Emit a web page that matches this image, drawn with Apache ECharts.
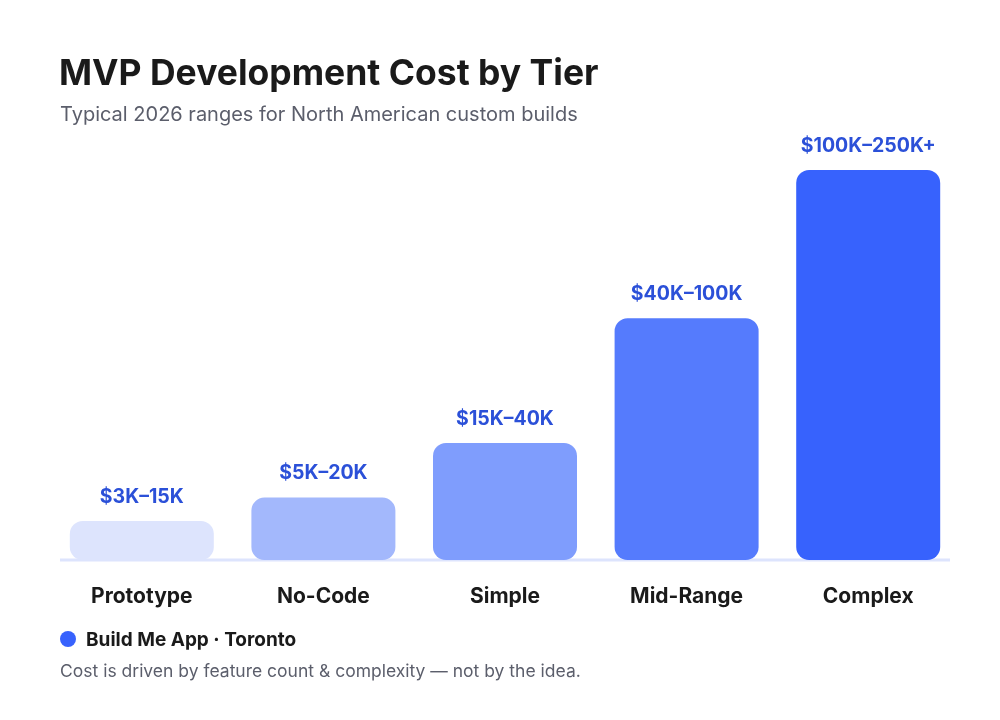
<!DOCTYPE html>
<html>
<head>
<meta charset="utf-8">
<script src="https://cdn.jsdelivr.net/npm/echarts@6/dist/echarts.min.js"></script>
<style>
  html, body { margin: 0; padding: 0; background: #ffffff; }
  #main { width: 1000px; height: 720px; }
</style>
</head>
<body>
<div id="main"></div>
<script>
// tiers, relative bar heights and their range labels
var tiers = ["Prototype", "No-Code", "Simple", "Mid-Range", "Complex"];
var barValues = [10, 16, 30, 62, 100];
var rangeLabels = ["$3K\u201315K", "$5K\u201320K", "$15K\u201340K", "$40K\u2013100K", "$100K\u2013250K+"];
var barColors = ["#dde4fd", "#a3b8fc", "#7f9dfd", "#557bfd", "#3762fd"];

var font = "Inter, 'Noto Sans', sans-serif";

var myChart = echarts.init(document.getElementById("main"));

var option = {
  backgroundColor: "#ffffff",
  animation: false,
  title: [
    {
      text: "MVP Development Cost by Tier",
      left: 54,
      top: 51,
      textStyle: { fontFamily: font, fontSize: 35.5, fontWeight: "bold", color: "#1a1a1a" }
    },
    {
      text: "Typical 2026 ranges for North American custom builds",
      left: 55,
      top: 100,
      textStyle: { fontFamily: font, fontSize: 20, fontWeight: "normal", color: "#5b5e6b" }
    },
    {
      text: "Build Me App \u00b7 Toronto",
      left: 81,
      top: 626,
      textStyle: { fontFamily: font, fontSize: 19, fontWeight: "bold", color: "#1a1a1a" }
    },
    {
      text: "Cost is driven by feature count & complexity \u2014 not by the idea.",
      left: 55,
      top: 658,
      textStyle: { fontFamily: font, fontSize: 17.5, fontWeight: "normal", color: "#5b5e6b" }
    }
  ],
  grid: { left: 51, right: 41, top: 170, bottom: 160 },
  xAxis: {
    type: "category",
    data: tiers,
    axisLine: { show: false },
    axisTick: { show: false },
    axisLabel: {
      margin: 26,
      fontFamily: font,
      fontSize: 21,
      fontWeight: "bold",
      color: "#1a1a1a"
    }
  },
  yAxis: {
    type: "value",
    min: 0,
    max: 100,
    show: false,
    splitLine: { show: false }
  },
  graphic: [
    {
      type: "line",
      shape: { x1: 60, y1: 560, x2: 950, y2: 560 },
      style: { stroke: "#dde4fd", lineWidth: 3 },
      z: 0
    },
    {
      type: "circle",
      shape: { cx: 68, cy: 639, r: 8 },
      style: { fill: "#3762fd" }
    }
  ],
  series: [
    {
      type: "bar",
      z: 5,
      barWidth: 144,
      data: barValues.map(function (v, i) {
        return {
          value: v,
          itemStyle: { color: barColors[i], borderRadius: 13 }
        };
      }),
      label: {
        show: true,
        position: "top",
        distance: 14,
        formatter: function (p) { return rangeLabels[p.dataIndex]; },
        fontFamily: font,
        fontSize: 19.5,
        fontWeight: "bold",
        color: "#2b50d8"
      }
    }
  ]
};

myChart.setOption(option);
</script>
</body>
</html>
